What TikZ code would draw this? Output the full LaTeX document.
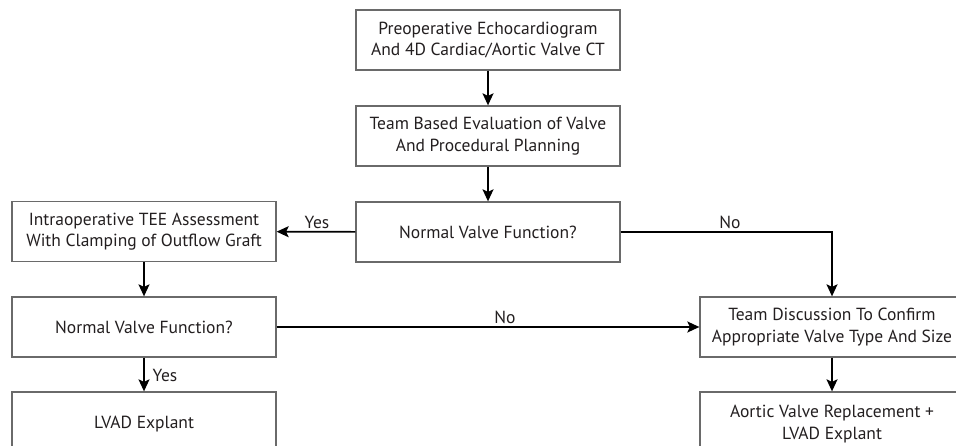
\documentclass[tikz,border=0pt]{standalone}
\usepackage{fontspec}
\setmainfont{PT Sans}
\usetikzlibrary{arrows.meta,positioning}
\definecolor{boxline}{HTML}{6A6A6A}
\definecolor{inktext}{HTML}{231F20}
\tikzset{
  flowbox/.style={
    draw=boxline,
    fill=white,
    line width=1.3pt,
    minimum width=264pt,
    minimum height=60pt,
    align=center,
    text=inktext,
    font=\fontsize{17.5}{21.5}\selectfont
  },
  flowarrow/.style={-{Stealth[length=12pt,width=11pt,inset=2.5pt]},line width=1.6pt,draw=black},
  answer/.style={text=inktext,font=\fontsize{17.5}{20}\selectfont}
}
\begin{document}
\begin{tikzpicture}[x=1pt,y=-1pt]
  \path[use as bounding box] (0,0) rectangle (956,446);
  \clip (0,0) rectangle (956,446);

  \node[flowbox] (echo) at (488,40) {Preoperative Echocardiogram\\And 4D Cardiac/Aortic Valve CT};
  \node[flowbox] (plan) at (488,136) {Team Based Evaluation of Valve\\And Procedural Planning};
  \node[flowbox] (check) at (488,232) {Normal Valve Function?};

  \node[flowbox] (tee) at (144,231.5) {Intraoperative TEE Assessment\\With Clamping of Outflow Graft};
  \node[flowbox] (recheck) at (144,327) {Normal Valve Function?};
  \node[flowbox, minimum height=64pt] (explant) at (144,424) {LVAD Explant};

  \node[flowbox] (team) at (832,327) {Team Discussion To Confirm\\Appropriate Valve Type And Size};
  \node[flowbox, minimum height=64pt] (replace) at (832,424) {Aortic Valve Replacement +\\LVAD Explant};

  \draw[flowarrow] (echo) -- (plan);
  \draw[flowarrow] (plan) -- (check);
  \draw[flowarrow] (check) -- (tee);
  \draw[flowarrow] (check.east) -| (team.north);
  \draw[flowarrow] (tee) -- (recheck);
  \draw[flowarrow] (recheck) -- (team);
  \draw[flowarrow] (recheck) -- (explant);
  \draw[flowarrow] (team) -- (replace);

  \node[answer] (yesleft) at (317,222) {Yes};
  \node[answer] (noright) at (730,222) {No};
  \node[answer] (nomid) at (505,317) {No};
  \node[answer] (yesdown) at (165,375) {Yes};
\end{tikzpicture}
\end{document}
